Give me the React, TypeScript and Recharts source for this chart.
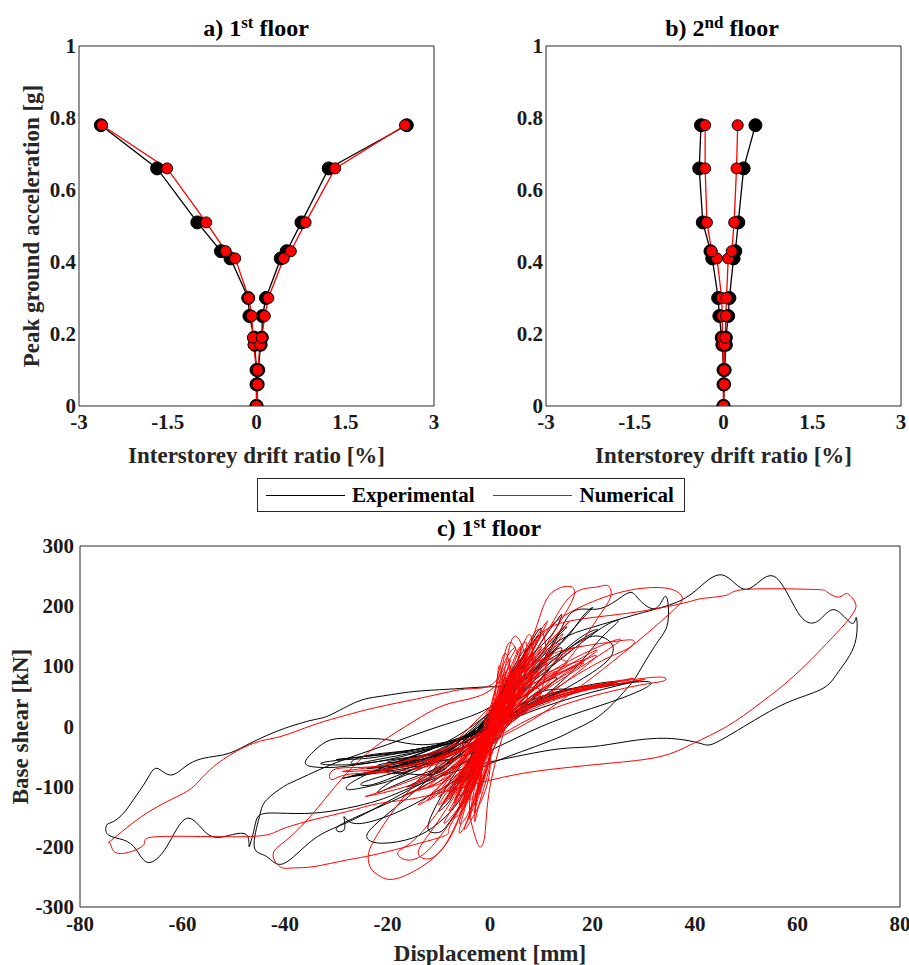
import React from "react";
import { Legend, Line, LineChart, XAxis, YAxis } from "recharts";

// peak ground acceleration levels [g]
const pgaLevels = [0, 0.06, 0.1, 0.17, 0.19, 0.25, 0.3, 0.41, 0.43, 0.51, 0.66, 0.78];

// 1st floor interstorey drift ratio [%]
const floor1ExpNeg = [0, 0, 0, -0.03, -0.04, -0.12, -0.14, -0.44, -0.6, -1.0, -1.68, -2.63];
const floor1ExpPos = [0, 0.02, 0.03, 0.07, 0.09, 0.1, 0.16, 0.41, 0.51, 0.76, 1.22, 2.54];
const floor1NumNeg = [0, 0, 0, -0.05, -0.06, -0.08, -0.13, -0.36, -0.52, -0.85, -1.51, -2.61];
const floor1NumPos = [0, 0.02, 0.02, 0.06, 0.09, 0.14, 0.2, 0.46, 0.58, 0.83, 1.33, 2.51];

// 2nd floor interstorey drift ratio [%]
const floor2ExpNeg = [0, 0, 0, -0.02, -0.03, -0.07, -0.09, -0.19, -0.22, -0.35, -0.41, -0.38];
const floor2ExpPos = [0, 0.01, 0.02, 0.04, 0.04, 0.08, 0.1, 0.17, 0.2, 0.25, 0.34, 0.54];
const floor2NumNeg = [0, 0, 0, -0.01, -0.02, -0.02, -0.03, -0.11, -0.2, -0.28, -0.31, -0.31];
const floor2NumPos = [0, 0.01, 0.01, 0.02, 0.03, 0.04, 0.05, 0.08, 0.14, 0.18, 0.22, 0.24];

const driftTicks = [-3, -1.5, 0, 1.5, 3];
const pgaTicks = [0, 0.2, 0.4, 0.6, 0.8, 1];
const dispTicks = [-80, -60, -40, -20, 0, 20, 40, 60, 80];
const shearTicks = [-300, -200, -100, 0, 100, 200, 300];

// base shear [kN] vs displacement [mm], 1st floor
const experimentalLoop: [number, number][] = [
  [0, 0], [1, 22], [2.5, 48], [3.5, 70], [2.5, 58], [0.5, 15], [-1, -18], [-2.5, -45], [-3.5, -68], [-2.5, -52], [-0.5, -8],
  [1.5, 30], [3.5, 72], [5, 98], [3.5, 80], [0.5, 18], [-2, -35], [-4, -78], [-5.5, -98], [-3.5, -72], [-0.5, -5],
  [2.5, 50], [5.5, 100], [7, 128], [5.5, 112], [1.5, 45], [-2.5, -28], [-6, -82], [-8, -108], [-6, -92], [-2, -32],
  [2, 38], [5, 92], [8, 135], [9.5, 152], [7, 125], [2.5, 62], [-3, -15], [-8, -55], [-12, -78], [-10, -76], [-5, -42],
  [0, 8], [4, 68], [8, 118], [12, 152], [14, 185], [13, 176], [10, 140], [4, 62], [-2, 2], [-8, -42], [-14, -68], [-18, -78], [-20, -74], [-15, -56], [-8, -32],
  [-2, 8], [4, 58], [10, 108], [15, 148], [18, 182], [20, 198], [19, 188], [16, 160], [10, 102], [3, 32], [-5, -28], [-12, -60], [-20, -88], [-24, -98], [-25, -94], [-20, -80], [-12, -56],
  [-5, -22], [-12, -30], [-20, -22], [-26, -20], [-31, -22], [-34.5, -42], [-36, -62], [-33, -68], [-28, -66], [-20, -56], [-12, -46], [-5, -26], [2, 8],
  [6, 30], [12, 55], [16, 62], [13, 55], [6, 30], [-2, -5], [-10, -30], [-20, -45], [-30, -55], [-22, -48], [-14, -40], [-6, -22], [0, 0],
  [4, 25], [10, 50], [20, 70], [25, 75], [22, 68], [14, 50], [5, 20], [-4, -15], [-12, -38], [-22, -55], [-27, -62], [-25, -50], [-18, -42], [-10, -30], [-3, -10],
  [0, 0], [10, 45], [18, 65], [26, 72], [29, 76], [24, 66], [15, 45], [5, 15], [-5, -20], [-15, -45], [-25, -62], [-33, -62], [-28, -55], [-20, -48], [-10, -32],
  [-18, -60], [-12, -48], [-6, -30], [0, -5], [6, 30], [10, 60], [8, 50], [2, 10], [-4, -20], [-10, -45], [-16, -62],
  [-24, -70], [-18, -62], [-10, -48], [-3, -25], [3, 10], [9, 50], [13, 80], [10, 70], [4, 35], [-2, 0], [-8, -30], [-16, -55], [-22, -68],
  [-12, -80], [-7, -55], [-2, -20], [3, 30], [8, 80], [11, 120], [9, 105], [4, 55], [-1, 5], [-6, -45], [-11, -75],
  [-6, -25], [2, 15], [8, 60], [12, 100], [14, 130], [11, 115], [6, 70], [0, 20], [-6, -25], [-12, -52], [-20, -60], [-14, -50],
  [-4, -30], [3, 30], [9, 90], [13, 150], [15, 165], [12, 140], [6, 80], [0, 20], [-6, -40], [-12, -85], [-16, -100], [-15, -95], [-10, -70],
  [0, -10], [7, 50], [12, 100], [17, 140], [21, 160], [18, 150], [11, 100], [4, 45], [-3, -10], [-10, -50], [-18, -85], [-22, -110], [-15, -85], [-8, -55],
  [-28, -85], [-20, -70], [-12, -55], [-4, -30], [4, 10], [12, 60], [18, 110], [22, 150], [25, 175], [22, 165], [15, 120], [7, 65], [0, 15], [-8, -35], [-18, -65], [-26, -82],
  [-2, -40], [2, 20], [5, 70], [7, 110], [5, 90], [1, 30], [-3, -40], [-7, -100], [-10, -140], [-8, -125], [-6, -90],
  [0, 0], [8, 88], [15, 128], [20, 150], [23.5, 140], [23.7, 118], [20, 90], [12, 50], [5, 18], [-2, -22], [-10, -56], [-18, -86], [-25, -102], [-28, -104], [-26, -88], [-18, -58], [-10, -32],
  [-2, 10], [6, 70], [12, 130], [16, 190], [21.5, 196], [26.7, 221], [29, 212], [32.2, 196], [34.1, 216], [34.8, 199], [34.5, 166], [32.5, 138], [29.3, 94], [27.6, 72], [24, 38], [20.2, 11], [16.3, -6], [13.7, -17], [8, -36], [0, -62], [-8, -96], [-15, -130], [-22, -155], [-27, -160], [-28.5, -150], [-28.5, -172], [-30, -170], [-26, -150], [-18, -120], [-10, -85], [0, -30], [5, 20], [10, 58],
  [18, 62], [25, 70], [30.9, 74.5], [30.2, 63.5], [25, 45], [18, 25], [10, 0], [0, -40], [-10, -80], [-20, -125], [-28, -160], [-34.5, -188], [-40.3, -228], [-43.6, -216], [-46, -200], [-45, -150], [-43.6, -122], [-40.3, -100], [-37.7, -89], [-30, -60], [-20, -30], [-10, 0], [0, 32],
  [5, 60], [0, -20], [-5, -110], [-10, -160], [-15, -185], [-21, -194], [-24, -185], [-22, -160], [-15, -110], [-8, -60], [0, -10], [5, 40],
  [8, 70], [0, -10], [-4, -100], [-8, -160], [-10, -176], [-12, -172], [-11, -140], [-7, -80], [-2, -20], [3, 40],
  [8, 100], [13.7, 144], [20, 165], [28, 185], [35, 202], [40, 225], [45.3, 252], [50.1, 228], [55.3, 250], [60.2, 188], [64.1, 176], [67.3, 194], [70.6, 171.5], [71.5, 181], [71.2, 138], [68, 91], [65, 63.5], [59.2, 44], [52.7, 16], [44.5, -25], [41, -28], [34.5, -19.6], [26.7, -25], [20, -33.5], [13.7, -37], [5, -50], [-5, -70], [-15, -100],
  [-21.5, -122], [-28, -136], [-34.5, -144], [-41, -144], [-44.9, -147], [-46, -170], [-47, -200], [-47.5, -180], [-51.4, -182], [-55.3, -177.5], [-59.2, -152.6], [-63.1, -200], [-66.7, -226], [-69, -205], [-71.5, -188.6], [-74.5, -180], [-74.8, -164], [-73.5, -158], [-71.5, -144], [-69.6, -122], [-67, -89], [-65, -69.5], [-62.1, -80.6], [-57.9, -58.5], [-52, -47], [-47.5, -31], [-41, -6], [-34.5, 11], [-31.2, 19], [-26, 41], [-21.5, 50], [-15, 58], [-8, 62], [0, 66], [4, 74],
  [8, 120], [10, 160], [8, 140], [2, 40], [-3, -40], [-6, -110], [-4, -90], [0, 0],
];

const numericalLoop: [number, number][] = [
  [0, 0], [2, 42], [4, 82], [5, 100], [3.5, 75], [0.5, 12], [-2, -40], [-4, -82], [-5, -102], [-3, -70], [0, -8],
  [3, 62], [6, 110], [7, 122], [5, 96], [1, 22], [-3, -58], [-6, -108], [-7, -124], [-5, -98], [-1, -30],
  [2, 40], [5, 90], [8, 112], [10, 102], [8, 82], [3, 30], [-2, -28], [-6, -80], [-9, -110], [-10, -116], [-7, -95], [-2, -40],
  [1, 20], [4, 70], [7, 100], [12, 112], [15, 106], [12, 86], [6, 40], [0, -20], [-5, -70], [-10, -96], [-14, -106], [-12, -100], [-6, -70], [0, -10],
  [2, 55], [4, 110], [2, 60], [-1, -20], [-3, -80], [-4, -112], [-2, -75], [0, -20], [2, 40],
  [6, 95], [3, 45], [0, -10], [-3, -70], [-5, -120], [-3, -90], [-1, -40], [2, 20], [4, 70],
  [3, 122], [1, 60], [-1, -30], [-2, -90], [-3, -130], [-2, -100], [0, -40], [1, 30],
  [8, 120], [5, 70], [1, 10], [-3, -50], [-7, -100], [-5, -85], [-1, -30], [3, 30], [6, 80],
  [5, 80], [2, 30], [-2, -30], [-4, -65], [-6, -90], [-4, -70], [-1, -25], [2, 25],
  [10, 130], [6, 85], [2, 25], [-3, -55], [-6, -110], [-8, -140], [-6, -120], [-2, -60], [2, 0], [6, 60],
  [7, 140], [4, 90], [1, 20], [-2, -60], [-4, -150], [-3, -120], [0, -50], [3, 30],
  [12, 120], [8, 80], [3, 30], [-3, -30], [-7, -75], [-10, -110], [-8, -95], [-3, -45], [2, 10], [8, 70],
  [9, 90], [5, 50], [0, -5], [-5, -50], [-9, -80], [-7, -70], [-3, -35], [2, 15],
  [6, 130], [3, 75], [0, 0], [-3, -75], [-6, -135], [-4, -110], [-1, -45], [2, 40],
  [7, 115], [4, 65], [0, 0], [-4, -70], [-7, -125], [-5, -105], [-2, -50], [2, 20],
  [9, 140], [6, 100], [2, 35], [-2, -45], [-5, -115], [-7, -150], [-5, -135], [-2, -75], [2, 0], [6, 75],
  [4, 140], [2, 80], [0, 10], [-2, -70], [-3, -155], [-2, -125], [0, -60], [2, 20],
  [11, 170], [7, 120], [3, 50], [-1, -30], [-4, -110], [-6, -175], [-4, -150], [-1, -80], [3, 10], [7, 90],
  [5, 150], [3, 100], [1, 30], [-1, -40], [-4, -120], [-2, -90], [0, -20],
  [13, 130], [9, 100], [4, 50], [-1, -10], [-5, -70], [-9, -125], [-7, -110], [-3, -60], [2, 0], [8, 70],
  [6, 105], [3, 55], [-1, -15], [-4, -85], [-6, -130], [-4, -115], [-1, -55], [2, 10],
  [3, 90], [1, 40], [-1, -30], [-3, -100], [-2, -75], [0, -10], [2, 50],
  [15, 170], [10, 125], [5, 60], [0, 0], [-4, -70], [-7, -130], [-9, -160], [-7, -145], [-3, -90], [1, -20], [7, 70],
  [8, 95], [4, 45], [0, -15], [-4, -75], [-8, -110], [-6, -95], [-2, -45], [3, 25],
  [14, 150], [9, 105], [4, 45], [-1, -20], [-5, -80], [-8, -120], [-6, -100], [-2, -45], [3, 20], [9, 90],
  [11, 100], [6, 55], [0, 0], [-6, -55], [-12, -100], [-9, -85], [-4, -45], [2, 10],
  [2, 100], [1, 50], [-1, -40], [-2, -110], [-1, -80], [0, -20], [1, 40],
  [16, 130], [10, 90], [4, 40], [-1, -40], [-4, -110], [-6, -160], [-4, -140], [-1, -70], [3, 0], [9, 70],
  [13, 90], [7, 50], [1, 0], [-4, -60], [-8, -105], [-10, -130], [-8, -115], [-4, -70], [1, -10], [7, 40],
  [8, 150], [5, 100], [2, 30], [-1, -50], [-3, -140], [-2, -110], [0, -40], [3, 50],
  [18, 110], [12, 80], [5, 40], [-2, -10], [-8, -55], [-14, -90], [-11, -80], [-5, -45], [2, 0], [10, 55],
  [5, 60], [2, 20], [-2, -25], [-5, -60], [-3, -40], [0, 0],
  [20, 120], [14, 95], [7, 55], [0, 0], [-6, -65], [-12, -120], [-9, -105], [-4, -60], [2, -5], [10, 60],
  [10, 160], [6, 110], [2, 40], [-1, -50], [-3, -120], [-5, -170], [-3, -145], [0, -70], [4, 20],
  [22, 70], [15, 55], [7, 30], [0, -10], [-8, -50], [-15, -70], [-12, -65], [-5, -35], [3, 10], [12, 45],
  [25, 75], [18, 62], [10, 40], [2, 5], [-6, -40], [-20, -72], [-25, -78], [-22, -75], [-12, -55], [-3, -20], [6, 25], [16, 58],
  [28, 80], [20, 68], [12, 50], [4, 15], [-5, -35], [-15, -65], [-28, -75], [-25, -70], [-15, -55], [-5, -25], [5, 20], [15, 55],
  [30, 78], [22, 66], [14, 48], [5, 15], [-4, -30], [-12, -58], [-5, -40], [3, 0],
  [20, 110], [15, 95], [8, 60], [2, 15], [-5, -50], [-12, -95], [-17, -115], [-14, -105], [-7, -65], [0, -15], [8, 45],
  [25, 140], [18, 120], [10, 80], [3, 30], [-4, -40], [-10, -100], [-14, -130], [-11, -115], [-5, -70], [2, -10], [10, 60], [18, 105],
  [4, 60], [8, 100], [14, 126], [20, 136], [25, 142], [28, 143], [27, 130], [22, 110], [14, 70], [6, 20], [-2, -40], [-10, -80], [-18, -104], [-24, -116], [-22, -110], [-14, -85], [-6, -50],
  [0, 0], [5, 30], [12, 55], [20, 68], [28, 78], [33.5, 82], [34, 76], [30, 70], [22, 55], [14, 35], [6, 5], [-2, -35], [-10, -62], [-20, -76], [-28, -80], [-31, -88], [-30.5, -72], [-25, -68], [-18, -60], [-10, -40], [-3, -15],
  [2, 30], [5, 80], [8, 140], [10, 190], [12, 222], [15, 233], [16.5, 226], [15.5, 200], [12, 150], [8, 90], [3, 20], [-3, -60], [-8, -130], [-12, -180], [-14, -210], [-12, -220], [-9, -200], [-6, -150], [-3, -90], [0, -30],
  [4, 40], [8, 110], [12, 170], [15, 210], [18, 228], [21, 232], [23, 234], [23.5, 215], [21, 180], [17, 130], [11, 70], [4, 10], [-4, -70], [-10, -140], [-15, -190], [-18, -210], [-16, -222], [-12, -205], [-7, -150], [-2, -80],
  [2, 0], [6, 70], [10, 150], [18, 200], [25, 222], [30, 230], [35, 229], [37.5, 215], [36, 195], [30, 150], [22, 95], [15, 50], [6, 0],
  [-2, -50], [-6, -150], [-10, -210], [-14.3, -238], [-19, -254], [-22, -246], [-23.4, -233], [-23.7, -211], [-22, -180], [-18, -130], [-12, -70], [-5, -10], [2, 50],
  [6, 80], [0, -20], [-5, -120], [-8, -170], [-10, -185], [-21.5, -211], [-28, -222], [-34.5, -233], [-38.4, -235], [-41, -233], [-42.3, -211], [-39.7, -188.6], [-34.5, -144], [-28, -78], [-21.5, -28], [-15, 8], [-8, 38], [0, 60],
  [4, 100], [2, 40], [-2, -60], [-4, -130], [-3, -180], [-2, -200], [-1, -180], [0, -100], [3, 0], [5, 60],
  [8, 130], [13.7, 171.5], [26.7, 188], [37.7, 205], [41.6, 213], [46.2, 218.5], [50.1, 228], [62.4, 228], [65.7, 224], [68, 215], [69.6, 221], [71.2, 207], [71.2, 193.6], [69.6, 174], [65.7, 138], [59.2, 83], [52.7, 38.5], [46.2, 0], [39.7, -28], [33.2, -50], [23.4, -61], [13.7, -69.5], [5, -80], [-5, -100], [-15, -120],
  [-21.5, -127.6], [-28, -141.6], [-34.5, -155], [-41, -172], [-47.5, -183], [-64.7, -183], [-67.6, -197], [-72.5, -211], [-74.1, -194], [-73.8, -188.6], [-67, -144], [-59.8, -111], [-56.6, -89], [-52.7, -58.5], [-46.2, -28], [-41, -17], [-34.5, 2.5], [-28, 19], [-21.5, 33], [-12, 50], [-5, 62], [0, 68],
  [3, 100], [5, 130], [3, 110], [0, 30], [-3, -60], [-5, -110], [-3, -90], [0, -10], [2, 60], [3, 80], [1, 30], [-1, -30], [-2, -60], [0, 0],
];

const FONT = "'Liberation Serif', 'Times New Roman', serif";
const AXIS = "#262626";

const toPoints = (xs: number[]) => xs.map((x, i) => ({ x, y: pgaLevels[i] }));
const toXY = (pairs: [number, number][]) => pairs.map(([x, y]) => ({ x, y }));

const labelStyle = { fontFamily: FONT, fontWeight: 700, fontSize: 23, fill: AXIS };

function XTick(props: any) {
  return (
    <text x={props.x} y={props.y} dy="0.72em" textAnchor="middle" fill="#1a1a1a" style={{ fontFamily: FONT, fontWeight: 700, fontSize: 21 }}>
      {props.payload.value}
    </text>
  );
}

function YTick(props: any) {
  return (
    <text x={props.x} y={props.y} dy="0.34em" textAnchor="end" fill="#1a1a1a" style={{ fontFamily: FONT, fontWeight: 700, fontSize: 21 }}>
      {props.payload.value}
    </text>
  );
}

function makeDot(fill: string, r: number) {
  return (p: any) => (
    <circle key={`dot-${p.index}`} cx={p.cx} cy={p.cy} r={r} fill={fill} stroke="#000" strokeWidth={1} />
  );
}

function DriftPanel({
  expNeg,
  expPos,
  numNeg,
  numPos,
  width,
  height,
  yAxisWidth,
  marginRight,
  showYLabel,
}: {
  expNeg: number[];
  expPos: number[];
  numNeg: number[];
  numPos: number[];
  width: number;
  height: number;
  yAxisWidth: number;
  marginRight: number;
  showYLabel: boolean;
}) {
  const blackDot = makeDot("#000", 6.5);
  const redDot = makeDot("#ff0000", 5.5);
  const tick = 5;
  return (
    <LineChart width={width} height={height} margin={{ top: 46, right: marginRight, bottom: 0, left: 0 }}>
      <XAxis
        xAxisId="main"
        dataKey="x"
        type="number"
        domain={[-3, 3]}
        ticks={driftTicks}
        allowDataOverflow
        tickLine={false}
        axisLine={false}
        tickSize={0}
        tickMargin={8}
        tick={<XTick />}
        height={64}
        label={{ value: "Interstorey drift ratio [%]", position: "insideBottom", offset: 7, style: labelStyle }}
      />
      <XAxis xAxisId="bm" type="number" domain={[-3, 3]} ticks={driftTicks} allowDataOverflow orientation="bottom" mirror tick={false} tickSize={tick} stroke={AXIS} />
      <XAxis xAxisId="tm" type="number" domain={[-3, 3]} ticks={driftTicks} allowDataOverflow orientation="top" mirror tick={false} tickSize={tick} stroke={AXIS} />
      <YAxis
        yAxisId="main"
        dataKey="y"
        type="number"
        domain={[0, 1]}
        ticks={pgaTicks}
        allowDataOverflow
        tickLine={false}
        axisLine={false}
        tickSize={0}
        tickMargin={3}
        tick={<YTick />}
        width={yAxisWidth}
        label={
          showYLabel
            ? { value: "Peak ground acceleration [g]", angle: -90, position: "insideLeft", offset: 31, style: { ...labelStyle, textAnchor: "middle" } }
            : undefined
        }
      />
      <YAxis yAxisId="lm" type="number" domain={[0, 1]} ticks={pgaTicks} allowDataOverflow orientation="left" mirror tick={false} tickSize={tick} stroke={AXIS} />
      <YAxis yAxisId="rm" type="number" domain={[0, 1]} ticks={pgaTicks} allowDataOverflow orientation="right" mirror tick={false} tickSize={tick} stroke={AXIS} />
      <Line xAxisId="main" yAxisId="main" data={toPoints(expNeg)} dataKey="y" type="linear" stroke="#000" strokeWidth={1.3} dot={blackDot} isAnimationActive={false} />
      <Line xAxisId="main" yAxisId="main" data={toPoints(expPos)} dataKey="y" type="linear" stroke="#000" strokeWidth={1.3} dot={blackDot} isAnimationActive={false} />
      <Line xAxisId="main" yAxisId="main" data={toPoints(numNeg)} dataKey="y" type="linear" stroke="#ff0000" strokeWidth={1.3} dot={redDot} isAnimationActive={false} />
      <Line xAxisId="main" yAxisId="main" data={toPoints(numPos)} dataKey="y" type="linear" stroke="#ff0000" strokeWidth={1.3} dot={redDot} isAnimationActive={false} />
    </LineChart>
  );
}

function LegendBox({ payload }: any) {
  return (
    <div
      style={{
        boxSizing: "border-box",
        width: 428,
        height: 34,
        border: `1px solid ${AXIS}`,
        background: "#fff",
        display: "flex",
        alignItems: "center",
        fontFamily: FONT,
        fontWeight: 700,
        fontSize: 21,
        color: "#000",
      }}
    >
      {(payload || []).map((item: any, i: number) => (
        <div key={i} style={{ display: "flex", alignItems: "center", marginLeft: i === 0 ? 8 : 19 }}>
          <span style={{ display: "inline-block", width: 79, height: 0, borderTop: `1.3px solid ${item.color}`, marginRight: 7 }} />
          <span>{item.value}</span>
        </div>
      ))}
    </div>
  );
}

function HysteresisPanel() {
  const tick = 8;
  return (
    <LineChart width={909} height={495} margin={{ top: 76, right: 9, bottom: 0, left: 0 }}>
      <XAxis
        xAxisId="main"
        dataKey="x"
        type="number"
        domain={[-80, 80]}
        ticks={dispTicks}
        allowDataOverflow
        tickLine={false}
        axisLine={false}
        tickSize={0}
        tickMargin={9}
        tick={<XTick />}
        height={58}
        label={{ value: "Displacement [mm]", position: "insideBottom", offset: 4, style: labelStyle }}
      />
      <XAxis xAxisId="bm" type="number" domain={[-80, 80]} ticks={dispTicks} allowDataOverflow orientation="bottom" mirror tick={false} tickSize={tick} stroke={AXIS} />
      <XAxis xAxisId="tm" type="number" domain={[-80, 80]} ticks={dispTicks} allowDataOverflow orientation="top" mirror tick={false} tickSize={tick} stroke={AXIS} />
      <YAxis
        yAxisId="main"
        dataKey="y"
        type="number"
        domain={[-300, 300]}
        ticks={shearTicks}
        allowDataOverflow
        tickLine={false}
        axisLine={false}
        tickSize={0}
        tickMargin={6}
        tick={<YTick />}
        width={80}
        label={{ value: "Base shear [kN]", angle: -90, position: "insideLeft", offset: 20, style: { ...labelStyle, textAnchor: "middle" } }}
      />
      <YAxis yAxisId="lm" type="number" domain={[-300, 300]} ticks={shearTicks} allowDataOverflow orientation="left" mirror tick={false} tickSize={tick} stroke={AXIS} />
      <YAxis yAxisId="rm" type="number" domain={[-300, 300]} ticks={shearTicks} allowDataOverflow orientation="right" mirror tick={false} tickSize={tick} stroke={AXIS} />
      <Legend
        layout="horizontal"
        verticalAlign="middle"
        align="center"
        wrapperStyle={{ top: 8, left: 257, width: 428, height: 34 }}
        content={<LegendBox />}
      />
      <Line
        xAxisId="main"
        yAxisId="main"
        name="Experimental"
        data={toXY(experimentalLoop)}
        dataKey="y"
        type="natural"
        stroke="#000"
        strokeWidth={1}
        dot={false}
        isAnimationActive={false}
      />
      <Line
        xAxisId="main"
        yAxisId="main"
        name="Numerical"
        data={toXY(numericalLoop)}
        dataKey="y"
        type="natural"
        stroke="#ff0000"
        strokeWidth={1}
        dot={false}
        isAnimationActive={false}
      />
    </LineChart>
  );
}

function Title({ left, top, pre, sup, post }: { left: number; top: number; pre: string; sup: string; post: string }) {
  return (
    <div
      style={{
        position: "absolute",
        left: left - 120,
        top,
        width: 240,
        textAlign: "center",
        fontFamily: FONT,
        fontWeight: 700,
        fontSize: 24,
        lineHeight: "28px",
        color: "#000",
        whiteSpace: "nowrap",
      }}
    >
      {pre}
      <sup style={{ fontSize: 17, verticalAlign: "8px", lineHeight: 0 }}>{sup}</sup> {post}
    </div>
  );
}

export default function App() {
  return (
    <div style={{ position: "absolute", left: 0, top: 0, width: 909, height: 965, background: "#fff", overflow: "hidden" }}>
      <div style={{ position: "absolute", left: 0, top: 0 }}>
        <DriftPanel
          expNeg={floor1ExpNeg}
          expPos={floor1ExpPos}
          numNeg={floor1NumNeg}
          numPos={floor1NumPos}
          width={460}
          height={470}
          yAxisWidth={79}
          marginRight={26}
          showYLabel
        />
      </div>
      <div style={{ position: "absolute", left: 460, top: 0 }}>
        <DriftPanel
          expNeg={floor2ExpNeg}
          expPos={floor2ExpPos}
          numNeg={floor2NumNeg}
          numPos={floor2NumPos}
          width={449}
          height={470}
          yAxisWidth={86}
          marginRight={8}
          showYLabel={false}
        />
      </div>
      <div style={{ position: "absolute", left: 0, top: 470 }}>
        <HysteresisPanel />
      </div>
      <Title left={256} top={14} pre="a) 1" sup="st" post="floor" />
      <Title left={722} top={14} pre="b) 2" sup="nd" post="floor" />
      <Title left={489} top={514} pre="c) 1" sup="st" post="floor" />
    </div>
  );
}
